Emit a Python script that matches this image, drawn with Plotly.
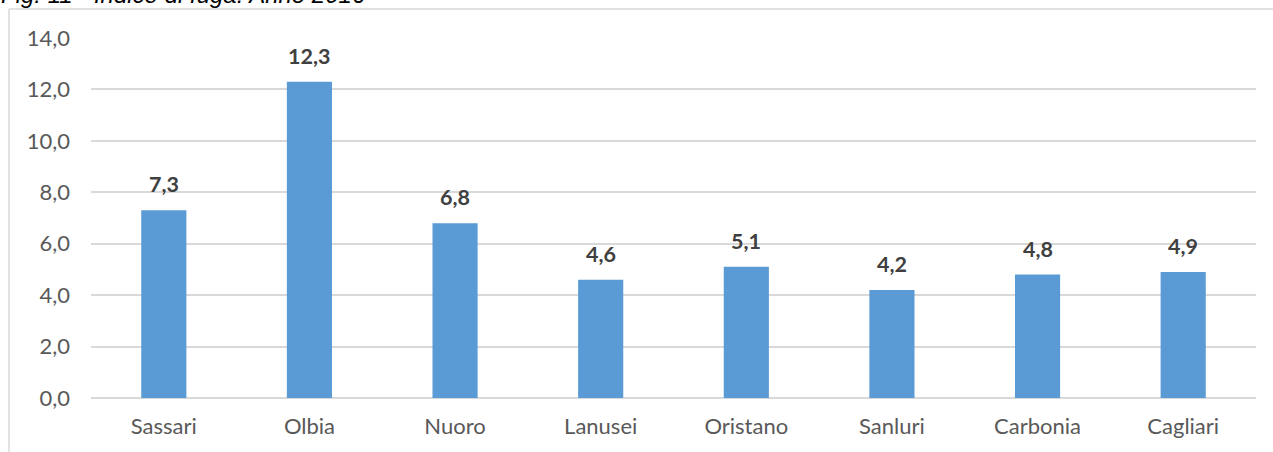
import plotly.graph_objects as go

# Indice di fuga per distretto
distretti = ["Sassari", "Olbia", "Nuoro", "Lanusei", "Oristano", "Sanluri", "Carbonia", "Cagliari"]
indice = [7.3, 12.3, 6.8, 4.6, 5.1, 4.2, 4.8, 4.9]
etichette = ["7,3", "12,3", "6,8", "4,6", "5,1", "4,2", "4,8", "4,9"]
y_ticks = [0, 2, 4, 6, 8, 10, 12, 14]
y_tick_labels = ["0,0", "2,0", "4,0", "6,0", "8,0", "10,0", "12,0", "14,0"]
titolo = "Fig. 11 - Indice di fuga. Anno 2016"

W, H = 1273, 452
ML, MR, MT, MB = 91, 17, 38, 54
PW, PH = W - ML - MR, H - MT - MB


def px_x(x):
    return (x - ML) / PW


def px_y(y):
    return (H - MB - y) / PH


fig = go.Figure()
fig.add_trace(go.Bar(
    x=distretti, y=indice,
    marker=dict(color="#5b9bd5", line=dict(width=0)),
    hoverinfo="skip",
))

for d, v, t in zip(distretti, indice, etichette):
    fig.add_annotation(
        x=d, y=v, text=f"<b>{t}</b>", showarrow=False,
        yanchor="bottom", yshift=11,
        font=dict(family="Lato, sans-serif", size=21.5, color="#404040"),
    )

fig.add_annotation(
    xref="paper", yref="paper", x=px_x(-1), y=px_y(-5),
    xanchor="left", yanchor="middle", showarrow=False,
    text=f"<i>{titolo}</i>",
    font=dict(family="Liberation Sans, Arial, sans-serif", size=24, color="#000000"),
)

# outer frame of the chart area
fig.add_shape(type="line", xref="paper", yref="paper",
              x0=px_x(9), x1=px_x(W + 5), y0=px_y(9), y1=px_y(9),
              line=dict(color="#d9d9d9", width=1.5))
fig.add_shape(type="line", xref="paper", yref="paper",
              x0=px_x(9), x1=px_x(9), y0=px_y(9), y1=px_y(H + 5),
              line=dict(color="#d9d9d9", width=1.5))

fig.update_layout(
    width=W, height=H,
    margin=dict(l=ML, r=MR, t=MT, b=MB),
    paper_bgcolor="white", plot_bgcolor="white",
    bargap=0.69,
    showlegend=False,
    font=dict(family="Lato, sans-serif", color="#595959"),
    xaxis=dict(
        showgrid=False, showline=False, zeroline=False,
        tickfont=dict(size=22, color="#595959"),
        ticklabelstandoff=13,
    ),
    yaxis=dict(
        range=[0, 14], tickvals=y_ticks, ticktext=y_tick_labels,
        showgrid=True, gridcolor="#d9d9d9", gridwidth=1.5,
        zeroline=True, zerolinecolor="#d9d9d9", zerolinewidth=1.5,
        showline=False,
        tickfont=dict(size=22, color="#595959"),
        ticklabelstandoff=20,
    ),
)

fig.write_html("out.html")
